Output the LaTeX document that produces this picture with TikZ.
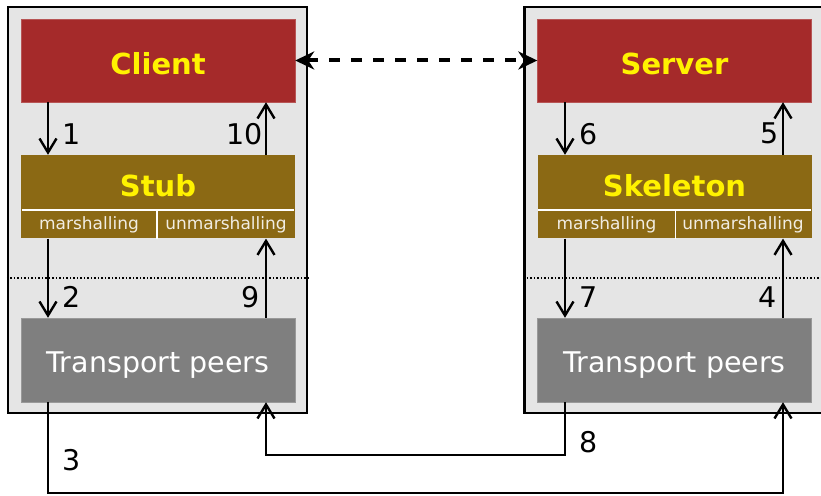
\documentclass[tikz,border=0pt]{standalone}
\usepackage{fontspec}
\setmainfont{DejaVu Sans}
\usetikzlibrary{arrows.meta,positioning}
\definecolor{endred}{HTML}{A52A2A}
\definecolor{proxybrown}{HTML}{8B6914}
\definecolor{peergray}{HTML}{7F7F7F}
\definecolor{panelgray}{HTML}{E5E5E5}
\tikzset{panel/.style={draw=black,line width=2.5pt,fill=panelgray,
      minimum width=299pt,minimum height=406pt,inner sep=0pt},
    endpoint/.style={fill=endred,draw=endred!80!white,text=yellow,
      font=\fontsize{29}{31}\selectfont\bfseries,text height=29pt,text depth=0pt,
      minimum width=274pt,minimum height=83pt,inner sep=0pt},
    proxy/.style={fill=proxybrown,text=yellow,
      font=\fontsize{29}{31}\selectfont\bfseries,text height=28pt,text depth=0pt,
      minimum width=274pt,minimum height=55pt,inner sep=0pt},
    half/.style={fill=proxybrown,text=white!88!proxybrown,
      font=\fontsize{17}{18}\selectfont,minimum height=28pt,inner sep=0pt},
    peers/.style={fill=peergray,draw=peergray!80!white,text=white,
      font=\fontsize{28.5}{30}\selectfont,text height=26pt,text depth=0pt,
      minimum width=274pt,minimum height=84pt,inner sep=0pt},
    flow/.style={line width=2.4pt,-{Straight Barb[length=14pt,width=17pt]}},
    wire/.style={line width=2.4pt},
    num/.style={font=\fontsize{28.5}{30}\selectfont,inner sep=2pt},
    layer/.style={dotted,line width=1.5pt},
    split/.style={white,line width=1.5pt},
    link/.style={line width=4pt,dash pattern=on 11pt off 11pt,
      {Stealth[length=19pt,width=18pt,inset=6pt]}-{Stealth[length=19pt,width=18pt,inset=6pt]}},
    }

\begin{document}
\begin{tikzpicture}[x=1pt,y=1pt]
	\useasboundingbox (0,0) rectangle (821,495);
	% the two machines
	\node[panel] (cbox) at (157.5,285) {};
	\node[panel] (sbox) at (674,285) {};
	% client side
	\node[endpoint] (client) at (158,434.5) {Client};
	\node[proxy] (stub) at (158,312.5) {Stub};
	\node[half,minimum width=136pt,anchor=north west] (cmar) at (stub.south west) {marshalling};
	\node[half,minimum width=138pt,anchor=north east] (cunm) at (stub.south east) {unmarshalling};
	\node[peers] (cpeer) at (158,135) {Transport peers};
	% server side
	\node[endpoint] (server) at (674.5,434.5) {Server};
	\node[proxy] (skel) at (674.5,312.5) {Skeleton};
	\node[half,minimum width=138pt,anchor=north west] (smar) at (skel.south west) {marshalling};
	\node[half,minimum width=137pt,anchor=north east] (sunm) at (skel.south east) {unmarshalling};
	\node[peers] (speer) at (674.5,135) {Transport peers};
	% dividers
	\draw[split,shorten <=1pt,shorten >=1pt] (cmar.north west) -- (cunm.north east);
	\draw[split] (cmar.north east) -- (cmar.south east);
	\draw[split,shorten <=1pt,shorten >=1pt] (smar.north west) -- (sunm.north east);
	\draw[split] (smar.north east) -- (smar.south east);
	\coordinate (cut) at (0,217);
	\draw[layer] (cbox.west |- cut) -- (cbox.east |- cut);
	\draw[layer] (sbox.west |- cut) -- (sbox.east |- cut);
	% columns and runs for the wires
	\coordinate (cl) at (48,0);
	\coordinate (cr) at (266,0);
	\coordinate (sl) at (565,0);
	\coordinate (sr) at (783,0);
	\coordinate (lowrun) at (0,2);
	\coordinate (highrun) at (0,40);
	% calls down and up
	\draw[flow] (client.south -| cl) -- (stub.north -| cl) node[num,pos=0.6,right=11pt]{1};
	\draw[flow] (cmar.south -| cl) -- (cpeer.north -| cl) node[num,pos=0.74,right=11pt]{2};
	\draw[wire] (cpeer.south -| cl) -- node[num,pos=0.64,right=11pt]{3} (cl |- lowrun) -- (sr |- lowrun)
		[flow] -- (speer.south -| sr);
	\draw[flow] (speer.north -| sr) -- (sunm.south -| sr) node[num,pos=0.26,left=3pt]{4};
	\draw[flow] (skel.north -| sr) -- (server.south -| sr) node[num,pos=0.4,left=1pt]{5};
	\draw[flow] (server.south -| sl) -- (skel.north -| sl) node[num,pos=0.6,right=11pt]{6};
	\draw[flow] (smar.south -| sl) -- (speer.north -| sl) node[num,pos=0.74,right=11pt]{7};
	\draw[flow] (speer.south -| sl) -- node[num,pos=0.76,right=11pt]{8} (sl |- highrun) -- (cr |- highrun)
		-- (cpeer.south -| cr);
	\draw[flow] (cpeer.north -| cr) -- (cunm.south -| cr) node[num,pos=0.26,left=3pt]{9};
	\draw[flow] (stub.north -| cr) -- (client.south -| cr) node[num,pos=0.4,left=0pt]{10};
	% remote call as seen by the programmer
	\draw[link] (client.east) -- (server.west);
\end{tikzpicture}
\end{document}
